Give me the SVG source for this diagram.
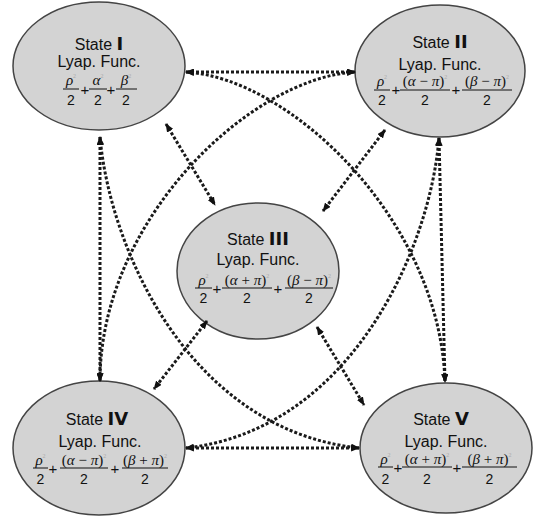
<svg xmlns="http://www.w3.org/2000/svg" width="537" height="519" viewBox="0 0 537 519">
<style>
.node ellipse{fill:#d3d3d3;stroke:#444;stroke-width:1.5}
.st{font-family:"Liberation Sans",Arial,sans-serif;font-size:16px;fill:#111;text-anchor:middle}
.rn{font-family:"DejaVu Sans","Liberation Sans",sans-serif;font-weight:bold;font-size:18px}
.ly{font-family:"Liberation Sans",Arial,sans-serif;font-size:16px;fill:#111;text-anchor:middle}
.nm{font-family:"Liberation Serif","Times New Roman",serif;font-size:15px;fill:#111;text-anchor:middle}
.g{font-style:italic}
.sup{font-size:6px;fill:#aaa}
.dn{font-family:"Liberation Sans",Arial,sans-serif;font-size:14px;fill:#111;text-anchor:middle}
.pl{font-family:"Liberation Sans",Arial,sans-serif;font-size:15px;fill:#111;text-anchor:middle}
.bar{stroke:#111;stroke-width:1}
#connectors path{fill:none;stroke:#1a1a1a;stroke-width:3;stroke-dasharray:3 2;marker-start:url(#ah);marker-end:url(#ah)}
</style>
<defs>
<marker id="ah" viewBox="0 0 10 8" refX="9" refY="4" markerWidth="9" markerHeight="7" markerUnits="userSpaceOnUse" orient="auto-start-reverse">
<path d="M0,0 L10,4 L0,8 z" fill="#111"/>
</marker>
</defs>
<rect width="537" height="519" fill="#fff"/>

<g id="state1" class="node">
<ellipse cx="99" cy="66" rx="86" ry="64"/>
<text class="st" x="99" y="50">State <tspan class="rn">I</tspan></text>
<text class="ly" x="99" y="67">Lyap. Func.</text>
<text class="nm" x="71" y="85"><tspan class="g">ρ</tspan><tspan class="sup" dy="-7">2</tspan></text>
<line class="bar" x1="63" y1="89" x2="79" y2="89"/>
<text class="dn" x="71" y="105">2</text>
<text class="pl" x="85" y="95">+</text>
<text class="nm" x="98" y="85"><tspan class="g">α</tspan><tspan class="sup" dy="-7">2</tspan></text>
<line class="bar" x1="89" y1="89" x2="107" y2="89"/>
<text class="dn" x="98" y="105">2</text>
<text class="pl" x="111" y="95">+</text>
<text class="nm" x="126" y="85"><tspan class="g">β</tspan><tspan class="sup" dy="-7">2</tspan></text>
<line class="bar" x1="116" y1="89" x2="137" y2="89"/>
<text class="dn" x="126" y="105">2</text>
</g>

<g id="state2" class="node">
<ellipse cx="440" cy="71" rx="85" ry="66"/>
<text class="st" x="440" y="48">State <tspan class="rn">II</tspan></text>
<text class="ly" x="440" y="70">Lyap. Func.</text>
<text class="nm" x="382" y="86"><tspan class="g">ρ</tspan><tspan class="sup" dy="-7">2</tspan></text>
<line class="bar" x1="374" y1="90" x2="390" y2="90"/>
<text class="dn" x="382" y="105">2</text>
<text class="pl" x="396" y="95">+</text>
<text class="nm" x="425" y="86">(<tspan class="g">α</tspan> − <tspan class="g">π</tspan>)<tspan class="sup" dy="-7">2</tspan></text>
<line class="bar" x1="400" y1="90" x2="450" y2="90"/>
<text class="dn" x="425" y="105">2</text>
<text class="pl" x="456" y="95">+</text>
<text class="nm" x="487" y="86">(<tspan class="g">β</tspan> − <tspan class="g">π</tspan>)<tspan class="sup" dy="-7">2</tspan></text>
<line class="bar" x1="462" y1="90" x2="512" y2="90"/>
<text class="dn" x="487" y="105">2</text>
</g>

<g id="state3" class="node">
<ellipse cx="258" cy="271" rx="81" ry="68"/>
<text class="st" x="258" y="245">State <tspan class="rn">III</tspan></text>
<text class="ly" x="258" y="265">Lyap. Func.</text>
<text class="nm" x="203.5" y="285"><tspan class="g">ρ</tspan><tspan class="sup" dy="-7">2</tspan></text>
<line class="bar" x1="195" y1="288" x2="212" y2="288"/>
<text class="dn" x="203.5" y="303">2</text>
<text class="pl" x="217" y="294">+</text>
<text class="nm" x="247" y="285">(<tspan class="g">α</tspan> + <tspan class="g">π</tspan>)<tspan class="sup" dy="-7">2</tspan></text>
<line class="bar" x1="222" y1="288" x2="272" y2="288"/>
<text class="dn" x="247" y="303">2</text>
<text class="pl" x="278" y="294">+</text>
<text class="nm" x="309" y="285">(<tspan class="g">β</tspan> − <tspan class="g">π</tspan>)<tspan class="sup" dy="-7">2</tspan></text>
<line class="bar" x1="285" y1="288" x2="333" y2="288"/>
<text class="dn" x="309" y="303">2</text>
</g>

<g id="state4" class="node">
<ellipse cx="99" cy="448" rx="86" ry="67"/>
<text class="st" x="97" y="425">State <tspan class="rn">IV</tspan></text>
<text class="ly" x="100" y="447">Lyap. Func.</text>
<text class="nm" x="40.5" y="465"><tspan class="g">ρ</tspan><tspan class="sup" dy="-7">2</tspan></text>
<line class="bar" x1="33" y1="468" x2="48" y2="468"/>
<text class="dn" x="40.5" y="484">2</text>
<text class="pl" x="53" y="474">+</text>
<text class="nm" x="84" y="465">(<tspan class="g">α</tspan> − <tspan class="g">π</tspan>)<tspan class="sup" dy="-7">2</tspan></text>
<line class="bar" x1="60" y1="468" x2="108" y2="468"/>
<text class="dn" x="84" y="484">2</text>
<text class="pl" x="115" y="474">+</text>
<text class="nm" x="145" y="465">(<tspan class="g">β</tspan> + <tspan class="g">π</tspan>)<tspan class="sup" dy="-7">2</tspan></text>
<line class="bar" x1="122" y1="468" x2="168" y2="468"/>
<text class="dn" x="145" y="484">2</text>
</g>

<g id="state5" class="node">
<ellipse cx="446" cy="448" rx="86" ry="65"/>
<text class="st" x="441" y="425">State <tspan class="rn">V</tspan></text>
<text class="ly" x="446" y="447">Lyap. Func.</text>
<text class="nm" x="385.5" y="464"><tspan class="g">ρ</tspan><tspan class="sup" dy="-7">2</tspan></text>
<line class="bar" x1="378" y1="467" x2="393" y2="467"/>
<text class="dn" x="385.5" y="484">2</text>
<text class="pl" x="398" y="473">+</text>
<text class="nm" x="427" y="464">(<tspan class="g">α</tspan> + <tspan class="g">π</tspan>)<tspan class="sup" dy="-7">2</tspan></text>
<line class="bar" x1="402" y1="467" x2="452" y2="467"/>
<text class="dn" x="427" y="484">2</text>
<text class="pl" x="457" y="473">+</text>
<text class="nm" x="489.5" y="464">(<tspan class="g">β</tspan> + <tspan class="g">π</tspan>)<tspan class="sup" dy="-7">2</tspan></text>
<line class="bar" x1="462" y1="467" x2="517" y2="467"/>
<text class="dn" x="489.5" y="484">2</text>
</g>

<g id="connectors">
<path d="M186,72 L355,72"/>
<path d="M186,448 L359,448"/>
<path d="M100,137 L100,381"/>
<path d="M439,138 L445,382"/>
<path d="M166,124 L215,205"/>
<path d="M385,130 L323,211"/>
<path d="M207,321 L154,389"/>
<path d="M317,327 L364,405"/>
<path d="M100,137 C110,250 190,430 359,448"/>
<path d="M439,138 C430,250 350,430 186,448"/>
<path d="M355,72 C250,78 100,220 100,381"/>
<path d="M186,72 C290,78 440,220 445,382"/>
</g>
</svg>
